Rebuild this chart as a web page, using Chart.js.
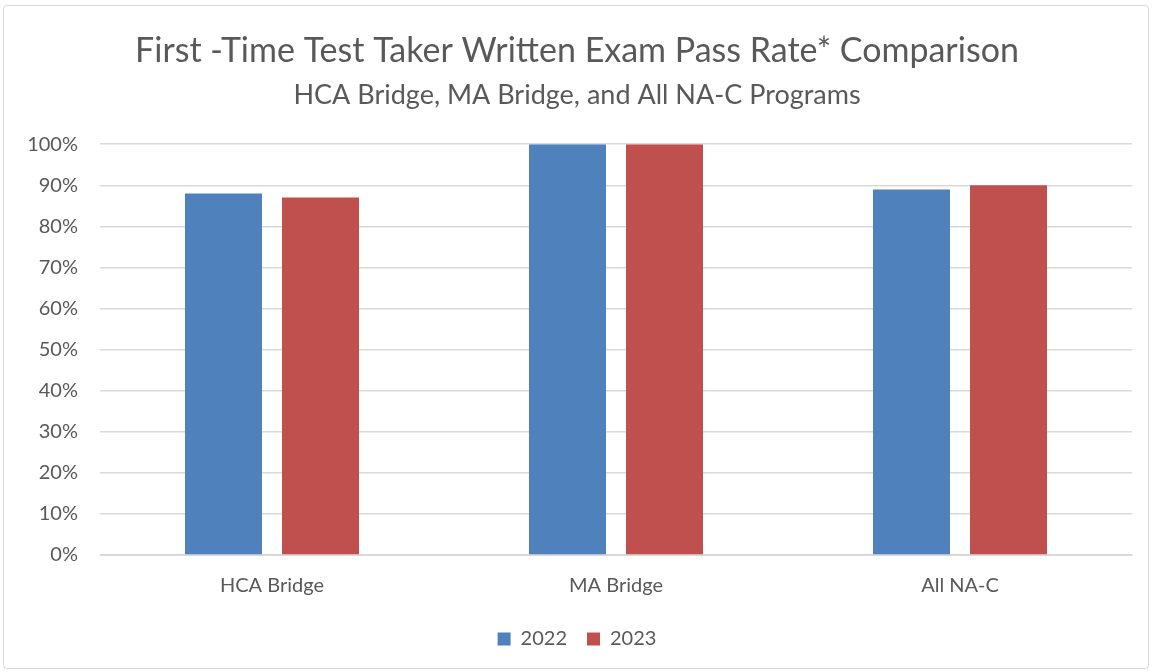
<!DOCTYPE html>
<html>
<head>
<meta charset="utf-8">
<script src="https://cdn.jsdelivr.net/npm/chart.js@4/dist/chart.umd.min.js"></script>
<style>
  html, body { margin: 0; padding: 0; background: #fff; }
  #wrap {
    position: absolute; left: 3px; top: 5px; width: 1146px; height: 664px;
    border: 1px solid #d9d9d9; border-radius: 4px; box-sizing: border-box;
  }
</style>
</head>
<body>
<div id="wrap"><canvas id="chart"></canvas></div>
<script>
'use strict';

const categories = ['HCA Bridge', 'MA Bridge', 'All NA-C'];
const pass2022 = [88, 100, 89];
const pass2023 = [87, 100, 90];
const tickValues = [0, 10, 20, 30, 40, 50, 60, 70, 80, 90, 100];

let canvasElem = document.getElementById('chart');
let fontFamily = 'Lato, "Open Sans", sans-serif';

function renderChart() {
    let data = {
        labels: categories,
        datasets: [
            {
              label: '2022',
              data: pass2022,
              backgroundColor: '#4f81bd'
            },
            {
              label: '2023',
              data: pass2023,
              backgroundColor: '#c0504d'
            }
        ]
    };
    let options = {
        responsive: true,
        maintainAspectRatio: false,
        animation: false,
        layout: { padding: { left: 18, right: 16, top: 0, bottom: 9 } },
        datasets: { bar: { categoryPercentage: 0.564, barPercentage: 0.794 } },
        plugins: {
            title: {
                display: true,
                text: 'First -Time Test Taker Written Exam Pass Rate* Comparison',
                color: '#595959',
                font: { family: fontFamily, size: 34, weight: 'normal' },
                padding: { top: 25, bottom: 0 }
            },
            subtitle: {
                display: true,
                text: 'HCA Bridge, MA Bridge, and All NA-C Programs',
                color: '#595959',
                font: { family: fontFamily, size: 27 },
                padding: { top: 7, bottom: 33 }
            },
            legend: {
                position: 'bottom',
                labels: {
                    color: '#595959',
                    font: { family: fontFamily, size: 20 },
                    boxWidth: 13,
                    boxHeight: 13,
                    padding: 20
                }
            },
            tooltip: { enabled: false }
        },
        scales: {
            x: {
                grid: { display: false },
                border: { color: '#d9d9d9' },
                ticks: {
                    color: '#595959',
                    font: { family: fontFamily, size: 20 },
                    padding: 11
                }
            },
            y: {
                min: 0,
                max: 100,
                afterBuildTicks: axis => { axis.ticks = tickValues.map(v => ({ value: v })); },
                afterFit: axis => { axis.width = 78; },
                grid: { color: '#d9d9d9', lineWidth: 1.5, drawTicks: false },
                border: { display: false },
                ticks: {
                    color: '#595959',
                    font: { family: fontFamily, size: 20 },
                    padding: 22,
                    callback: v => v + '%'
                }
            }
        }
    };

    let ctx = canvasElem.getContext('2d');
    new Chart(ctx, {
        type: 'bar',
        data: data,
        options: options
    });
}

renderChart();
</script>
</body>
</html>
